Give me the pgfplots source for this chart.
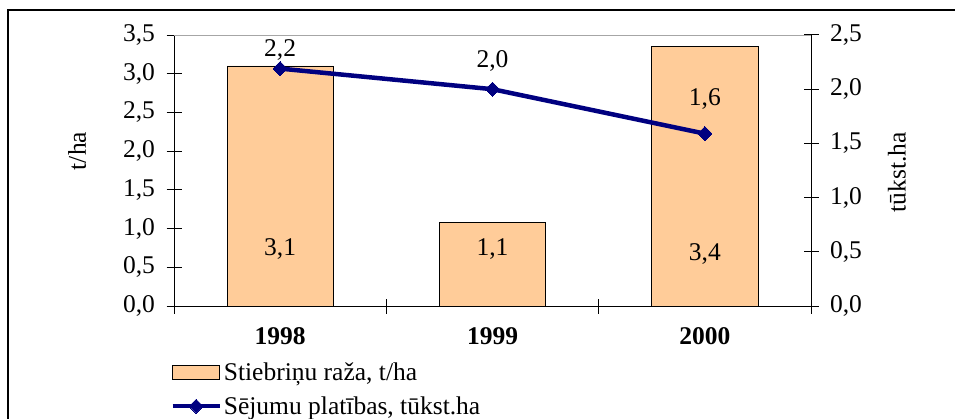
\documentclass[border=0pt]{standalone}
\usepackage{fontspec}
\setmainfont{Liberation Serif}
\usepackage{pgfplots}
\pgfplotsset{compat=1.18}
\definecolor{barfill}{RGB}{255,204,153}
\definecolor{linenavy}{RGB}{0,0,128}

\pgfplotsset{
  common/.style={
    scale only axis, width=637pt, height=271pt,
    at={(174pt,112pt)}, anchor=south west,
    xmin=-0.5, xmax=2.5, ymin=0,
    tick align=center, major tick length=15pt,
    axis line style={black, line width=1pt},
    every tick/.style={black, line width=1pt},
    /pgf/number format/use comma,
    /pgf/number format/fixed,
    /pgf/number format/fixed zerofill,
    /pgf/number format/precision=1,
    /pgf/number format/assume math mode=true,
  },
  barleg/.style={legend image code/.code={\draw[##1] (0pt,-7pt) rectangle (47pt,7pt);}},
  lineleg/.style={legend image code/.code={\draw[##1, mark repeat=2, mark phase=2]
    plot coordinates {(0pt,0pt) (23.5pt,0pt) (47pt,0pt)};}},
}

\begin{document}
\begin{tikzpicture}[font=\fontsize{25.5}{30}\selectfont]
\useasboundingbox (0,0) rectangle (955pt,418pt);
\draw[line width=1.5pt] (8pt,408pt) rectangle (975pt,-20pt);

% left axis: yield (bars)
\begin{axis}[common,
    ymax=3.5, ytick={0,0.5,...,3.5},
    axis x line*=bottom, axis y line*=left,
    yticklabel style={xshift=-8pt},
    xtick={-0.5,0.5,1.5,2.5}, xticklabels={},
    extra x ticks={0,1,2},
    extra x tick labels={\textbf{1998},\textbf{1999},\textbf{2000}},
    extra x tick style={major tick length=0pt, xticklabel style={yshift=-18pt}},
    ylabel={t/ha},
    ylabel style={at={(axis description cs:-0.152,0.572)}, anchor=center},
]
\draw[gray!70, line width=0.8pt] (rel axis cs:0,1) -- (rel axis cs:1,1);
\addplot[ybar, bar width=0.5, fill=barfill, draw=black, line width=0.8pt]
  coordinates {(0,3.1) (1,1.08) (2,3.35)};
\addplot[draw=none, mark=none, nodes near coords, point meta=explicit symbolic,
  every node near coord/.append style={anchor=center, black}]
  table[row sep=\\, meta=lab] {x y lab\\ 0 0.73 3,1\\ 1 0.73 1,1\\ 2 0.67 3,4\\};
\end{axis}

% right axis: sown area (line)
\begin{axis}[common,
    ymax=2.5, ytick={0,0.5,...,2.5},
    axis y line*=right, axis x line=none,
    yticklabel style={xshift=8pt},
    ylabel={tūkst.ha},
    ylabel style={at={(axis description cs:1.135,0.494)}, anchor=center},
    legend style={at={(axis description cs:-0.006,-0.2)}, anchor=north west,
      draw=none, fill=none, inner sep=0pt, row sep=11pt,
      font=\fontsize{25.5}{30}\selectfont},
    legend cell align=left,
]
\addlegendimage{barleg, fill=barfill, draw=black, line width=0.8pt}
\addlegendentry{Stiebriņu raža, t/ha}
\addplot[lineleg, linenavy, line width=4.5pt, mark=square*, mark size=5pt,
  mark options={rotate=45, fill=linenavy, line width=0pt}]
  coordinates {(0,2.19) (1,2.0) (2,1.59)};
\addlegendentry{Sējumu platības, tūkst.ha}
\addplot[draw=none, mark=none, nodes near coords, point meta=explicit symbolic,
  every node near coord/.append style={anchor=center, black}, forget plot]
  table[row sep=\\, meta=lab] {x y lab\\ 0 2.36 2,2\\ 1 2.26 2,0\\ 2 1.91 1,6\\};
\end{axis}
\end{tikzpicture}
\end{document}
